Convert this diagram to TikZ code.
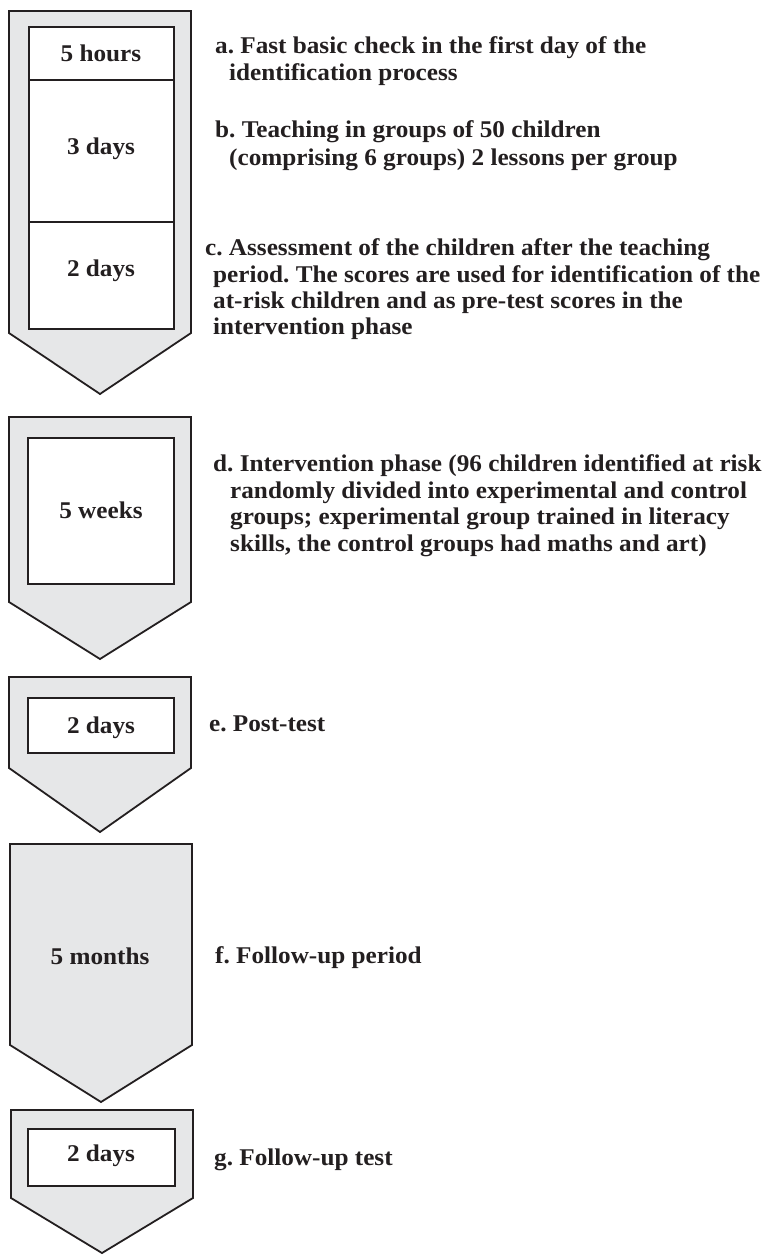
\documentclass[tikz,border=0pt]{standalone}
\usepackage{fontspec}
\setmainfont{Liberation Serif}[FakeStretch=1.05]
\begin{document}
\frenchspacing
\begin{tikzpicture}[x=1pt,y=-1pt,
  stage/.style={draw=ink,fill=stagefill,line width=1.8pt,line join=miter},
  slot/.style={draw=ink,fill=white,line width=1.8pt},
  dur/.style={font=\fontsize{24}{28}\selectfont\bfseries,inner sep=0pt,anchor=base,text=ink},
  lbl/.style={font=\fontsize{24}{28}\selectfont\bfseries,inner sep=0pt,anchor=base west,text=ink}]
\definecolor{ink}{HTML}{231F20}
\definecolor{stagefill}{HTML}{E6E7E8}
\useasboundingbox (0,0) rectangle (784,1255);

% stage arrows (pentagons pointing down)
\draw[stage] (9,11) -- (191,11) -- (191,333) -- (100,394) -- (9,333) -- cycle;
\draw[stage] (9,417) -- (191,417) -- (191,602) -- (100,659) -- (9,602) -- cycle;
\draw[stage] (9,677) -- (191,677) -- (191,768) -- (100,832) -- (9,768) -- cycle;
\draw[stage] (10,844) -- (192,844) -- (192,1045) -- (101,1102) -- (10,1045) -- cycle;
\draw[stage] (11,1110) -- (193,1110) -- (193,1198) -- (102,1253) -- (11,1198) -- cycle;

% white duration slots
\draw[slot] (29,27) rectangle (174,329);
\draw[ink,line width=1.8pt] (29,80) -- (174,80);
\draw[ink,line width=1.8pt] (29,222) -- (174,222);
\draw[slot] (28,438) rectangle (174,584);
\draw[slot] (28,698) rectangle (174,753);
\draw[slot] (28,1129) rectangle (175,1186);

% durations
\node[dur] (d1) at (101,62) {5 hours};
\node[dur] (d2) at (101,154) {3 days};
\node[dur] (d3) at (101,276) {2 days};
\node[dur] (d4) at (101,518) {5 weeks};
\node[dur] (d5) at (101,733) {2 days};
\node[dur] (d6) at (100,964) {5 months};
\node[dur] (d7) at (101,1161) {2 days};

% descriptions
\node[lbl] (a1) at (215,53) {a. Fast basic check in the first day of the};
\node[lbl] (a2) at (229,81) {identification process};
\node[lbl] (b1) at (215,137) {b. Teaching in groups of 50 children};
\node[lbl] (b2) at (229,165) {(comprising 6 groups) 2 lessons per group};
\node[lbl] (c1) at (205,255) {c. Assessment of the children after the teaching};
\node[lbl] (c2) at (213,282) {period. The scores are used for identification of the};
\node[lbl] (c3) at (213,308) {at-risk children and as pre-test scores in the};
\node[lbl] (c4) at (213,334) {intervention phase};
\node[lbl] (e1) at (213,471) {d. Intervention phase (96 children identified at risk};
\node[lbl] (e2) at (230,498) {randomly divided into experimental and control};
\node[lbl] (e3) at (230,524) {groups; experimental group trained in literacy};
\node[lbl] (e4) at (230,551) {skills, the control groups had maths and art)};
\node[lbl] (f1) at (209,731) {e. Post-test};
\node[lbl] (g1) at (215,963) {f. Follow-up period};
\node[lbl] (h1) at (214,1165) {g. Follow-up test};
\end{tikzpicture}
\end{document}
